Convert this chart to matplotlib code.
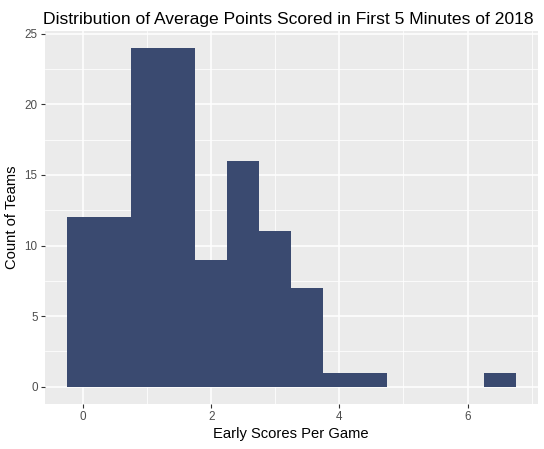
import matplotlib
matplotlib.use("Agg")
import matplotlib.pyplot as plt
import numpy as np

# histogram bins (width 0.5) and team counts
bin_centers = [0.0, 0.5, 1.0, 1.5, 2.0, 2.5, 3.0, 3.5, 4.0, 4.5, 5.0, 5.5, 6.0, 6.5]
counts = [12, 12, 24, 24, 9, 16, 11, 7, 1, 1, 0, 0, 0, 1]
bin_width = 0.5

x_ticks = [0, 2, 4, 6]
y_ticks = [0, 5, 10, 15, 20, 25]

plt.rcParams['font.family'] = ['Liberation Sans', 'DejaVu Sans']

fig = plt.figure(figsize=(5.44, 4.49), dpi=100)
ax = fig.add_axes([0.082, 0.101, 0.907, 0.830])
ax.set_facecolor('#EBEBEB')

ax.bar(bin_centers, counts, width=bin_width, color='#3A4A70', linewidth=0, zorder=3)

ax.set_xlim(-0.6, 7.1)
ax.set_ylim(-1.2, 25.2)
ax.set_xticks(x_ticks)
ax.set_yticks(y_ticks)
ax.set_xticks([1, 3, 5, 7], minor=True)
ax.set_yticks(np.arange(2.5, 25, 5), minor=True)

ax.grid(which='major', color='white', linewidth=1.1, zorder=1)
ax.grid(which='minor', color='white', linewidth=0.55, zorder=1)
ax.set_axisbelow(True)
for s in ax.spines.values():
    s.set_visible(False)

ax.tick_params(which='major', length=3, width=0.8, color='#333333',
               labelcolor='#4D4D4D', labelsize=8.4, pad=2)
ax.tick_params(which='minor', length=0)

ax.set_xlabel('Early Scores Per Game', fontsize=10.6, labelpad=3)
ax.set_ylabel('Count of Teams', fontsize=10.6, labelpad=4)
ax.set_title('Distribution of Average Points Scored in First 5 Minutes of 2018',
             fontsize=12.6, loc='left', x=-0.004, pad=5)

fig.savefig('out.png', dpi=100)
